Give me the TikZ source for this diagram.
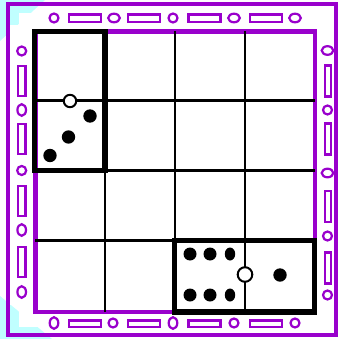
\documentclass[tikz,border=0pt]{standalone}
\definecolor{violetframe}{RGB}{153,0,204}
\definecolor{cornercyan}{RGB}{192,255,255}
\begin{document}
\begin{tikzpicture}[x=1pt,y=-1pt,
  pip/.style={fill=black},
  hole/.style={draw=black,fill=white,line width=2pt},
  slot/.style={draw=violetframe,line width=2.2pt},
  domino/.style={draw=black,line width=5.5pt}]
  \useasboundingbox (0,0) rectangle (338,339);
  % corner tints behind the border
  \fill[cornercyan] (0,0) -- (45,0) -- (0,41) -- cycle;
  \fill[cornercyan] (0,296) -- (52,339) -- (0,339) -- cycle;
  \fill[white] (19,13) rectangle (330,327);
  \fill[white] (10,25) rectangle (334,305);
  \draw[violetframe,line width=4.5pt] (8,4) rectangle (336,335);
  \draw[violetframe,line width=4.8pt] (35.5,31.5) rectangle (315,312);
  % slots along the border
  \foreach \x in {85,144,204.5,266}
    \draw[slot] (\x-16,14.5) rectangle (\x+16,22);
  \foreach \x in {85,144,204.5,266}
    \draw[slot] (\x-16,320.5) rectangle (\x+16,327);
  \foreach \y in {81,139,201,262}
    \draw[slot] (18,\y-15) rectangle (25.5,\y+15);
  \foreach \y in {81,139,206.5,268}
    \draw[slot] (325,\y-15.5) rectangle (331,\y+15.5);
  % rings along the border
  \draw[slot] (54,18) circle (4.5);
  \draw[slot] (114,18) ellipse (5.8 and 4.3);
  \draw[slot] (173,18) circle (4.5);
  \draw[slot] (234,18) ellipse (5.8 and 4.3);
  \draw[slot] (295,18) ellipse (5.8 and 4.3);
  \draw[slot] (54,323) ellipse (4.3 and 5.8);
  \draw[slot] (113,323) circle (4.5);
  \draw[slot] (173,323) ellipse (4.3 and 5.8);
  \draw[slot] (234,323) circle (4.5);
  \draw[slot] (295,323) circle (4.5);
  \draw[slot] (21.7,51) circle (4.5);
  \draw[slot] (21.7,110) ellipse (4.3 and 5.8);
  \draw[slot] (21.7,170.5) circle (4.5);
  \draw[slot] (21.7,230) ellipse (4.3 and 5.8);
  \draw[slot] (21.7,292) ellipse (4.3 and 5.8);
  \draw[slot] (327.5,50.5) ellipse (5.8 and 4.3);
  \draw[slot] (327.5,110) circle (4.5);
  \draw[slot] (327.5,173) ellipse (5.8 and 4.3);
  \draw[slot] (327.5,236) circle (4.5);
  \draw[slot] (327.5,295) circle (4.5);
  % board
  \foreach \x in {105,175,245}
    \draw[line width=2.2pt] (\x,31.5) -- (\x,311.5);
  \foreach \y in {100.5,170.5,240.5}
    \draw[line width=2.2pt] (35,\y) -- (315,\y);
  \draw[domino] (34.5,31.5) rectangle (105,170.5);
  \draw[domino] (174.5,240.5) rectangle (314.5,312);
  % upright domino
  \fill[pip] (90,116) circle (6.7);
  \fill[pip] (68.5,137) circle (6.7);
  \fill[pip] (50,155.5) circle (6.7);
  \draw[hole] (70,101) circle (6.2);
  % flat domino
  \foreach \y in {254,295} {
    \fill[pip] (190,\y) circle (6.5);
    \fill[pip] (210,\y) circle (6.5);
    \fill[pip] (230,\y) ellipse (5.2 and 6.5);
  }
  \draw[hole] (245,274.5) circle (7.3);
  \fill[pip] (280,275) circle (6.7);
\end{tikzpicture}
\end{document}
